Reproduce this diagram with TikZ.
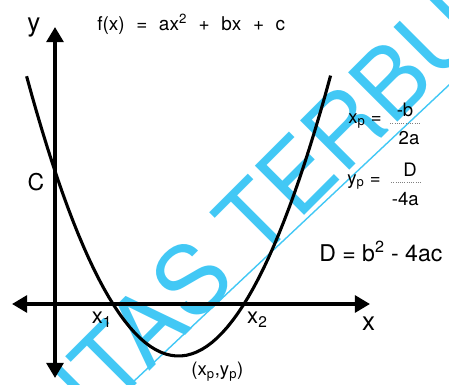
\documentclass[tikz,border=0pt]{standalone}
\usepackage{fontspec}
\setmainfont{TeX Gyre Heros}
\newfontfamily\widefont[WordSpace=2.2]{TeX Gyre Heros}
\usetikzlibrary{arrows.meta}
\definecolor{stampcyan}{RGB}{66,200,245}

\begin{document}
\begin{tikzpicture}[
  axis/.style={line width=2.7pt, <->, >={Triangle[length=0.38cm,width=0.42cm]}},
  curve/.style={line width=2.2pt},
  lbl/.style={inner sep=0pt, font=\fontsize{16.4}{18}\selectfont},
  axlbl/.style={inner sep=0pt, font=\fontsize{18.5}{20}\selectfont},
  rootlbl/.style={inner sep=0pt, font=\fontsize{15.7}{18}\selectfont},
  smlbl/.style={inner sep=0pt, font=\fontsize{13.2}{15}\selectfont},
  widelbl/.style={inner sep=0pt, font=\widefont\fontsize{13.5}{15}\selectfont},
  bar/.style={densely dotted, gray, line width=0.6pt},
  stamp/.style={inner sep=0pt, text=stampcyan, rotate=45, anchor=base west,
    font=\fontsize{68}{75}\selectfont}
]
% Frame
\clip (-1.375,-2.025) rectangle (9.85,7.6);
% Watermark
\node[stamp] (stamp) at (0.98,-3.05) {ITAS TERBU};
\draw[stampcyan, line width=1pt] (1.6,-2.28) -- (10.1,5.71);
% Axes
\coordinate (xl) at (-1.075,0);
\coordinate (xr) at (7.875,0);
\coordinate (yb) at (0,-1.85);
\coordinate (yt) at (0,6.925);
\draw[axis] (xl) -- (xr);
\draw[axis] (yb) -- (yt);
% Parabola f(x)=ax^2+bx+c
\draw[curve] plot[domain=-0.71:6.89, samples=60] (\x,{0.485*(\x-1.45)*(\x-4.725)});
% Labels
\node[axlbl] (ylbl) at (-0.525,6.9) {y};
\node[axlbl] (xlbl) at (7.84,-0.49) {x};
\node[lbl] (clbl) at (-0.475,3.05) {C};
\node[rootlbl] (xone) at (1.175,-0.4) {x\textsubscript{1}};
\node[rootlbl] (xtwo) at (5.06,-0.4) {x\textsubscript{2}};
\node[smlbl] (vtx) at (4.06,-1.69) {(x\textsubscript{p},y\textsubscript{p})};
\node[widelbl, anchor=west] (func) at (1.05,7.0) {f(x) = ax\textsuperscript{2} + bx + c};
% Vertex formulas
\node[smlbl] (xpeq) at (7.75,4.575) {x\textsubscript{p} =};
\node[smlbl] (xpnum) at (8.75,4.85) {-b};
\node[smlbl] (xpden) at (8.85,4.15) {2a};
\draw[bar] (8.375,4.525) -- (9.125,4.525);
\node[smlbl] (ypeq) at (7.725,3.05) {y\textsubscript{p} =};
\node[smlbl] (ypnum) at (8.875,3.35) {D};
\node[smlbl] (ypden) at (8.76,2.62) {-4a};
\draw[bar] (8.4,3.05) -- (9.15,3.05);
\node[lbl, anchor=west] (disc) at (6.6,1.31) {D = b\textsuperscript{2} - 4ac};
\end{tikzpicture}
\end{document}
